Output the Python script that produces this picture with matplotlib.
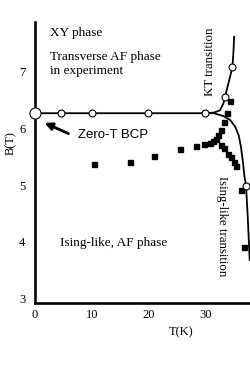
"""B-T phase diagram with KT and Ising-like transition lines."""

import matplotlib.pyplot as plt

# open circles on the horizontal boundary
flat_T = [0.0, 4.5, 10.0, 20.0, 30.0]
flat_B = [6.27, 6.27, 6.27, 6.27, 6.27]

# KT transition branch (line)
kt_line_T = [0.0, 30.0, 31.5, 32.6, 33.2, 33.5, 34.1, 34.8, 35.0, 35.1]
kt_line_B = [6.27, 6.27, 6.28, 6.32, 6.44, 6.56, 6.80, 7.08, 7.38, 7.62]
kt_circ_T = [33.5, 34.8]
kt_circ_B = [6.56, 7.08]

# Ising-like transition branch
is_line_T = [30.0, 31.5, 33.2, 34.4, 35.3, 35.9, 36.3, 36.65, 36.9, 37.2, 37.5, 37.85]
is_line_B = [6.27, 6.27, 6.22, 6.15, 6.03, 5.88, 5.68, 5.41, 5.17, 4.99, 4.44, 3.68]
is_circ_T = [37.2]
is_circ_B = [4.99]

# experimental points (filled squares)
sq_T = [10.4, 16.8, 21.0, 25.6, 28.3, 29.8, 30.8, 31.3, 31.85, 32.3, 32.8, 33.4,
        33.9, 34.4, 32.8, 33.3, 34.1, 34.6, 35.0, 35.4, 36.3, 36.9]
sq_B = [5.37, 5.41, 5.51, 5.64, 5.70, 5.73, 5.75, 5.78, 5.82, 5.88, 5.97, 6.12,
        6.27, 6.48, 5.71, 5.65, 5.55, 5.49, 5.41, 5.34, 4.92, 3.90]

x_ticks = [0, 10, 20, 30]
y_ticks = [3, 4, 5, 6, 7]

SERIF = "Liberation Serif"
SANS = "Liberation Sans"

fig = plt.figure(figsize=(2.5, 3.66), dpi=100)
ax = fig.add_axes([35 / 250, 63 / 366, 215 / 250, 281 / 366])
ax.set_xlim(0, 37.9)
ax.set_ylim(2.92, 7.88)

for side in ["top", "right"]:
    ax.spines[side].set_visible(False)
for side in ["left", "bottom"]:
    ax.spines[side].set_linewidth(1.9)

ax.set_xticks(x_ticks)
ax.set_yticks(y_ticks)
ax.tick_params(length=0, labelsize=9)
ax.tick_params(axis="x", pad=4)
ax.tick_params(axis="y", pad=7)
for lab in ax.get_xticklabels() + ax.get_yticklabels():
    lab.set_fontfamily(SERIF)

ax.plot(kt_line_T, kt_line_B, color="black", lw=1.3, zorder=2)
ax.plot(is_line_T, is_line_B, color="black", lw=1.3, zorder=2)

circ = dict(ls="none", marker="o", mfc="white", mec="black", mew=0.8, zorder=4)
ax.plot(flat_T[1:], flat_B[1:], ms=5, **circ)
ax.plot(flat_T[:1], flat_B[:1], ms=8, clip_on=False, **circ)
ax.plot(kt_circ_T, kt_circ_B, ms=5, **circ)
ax.plot(is_circ_T, is_circ_B, ms=5, **circ)
ax.plot(sq_T, sq_B, ls="none", marker="s", ms=3.6, color="black", zorder=3)

ax.text(2.6, 7.68, "XY phase", fontsize=9.5, family=SERIF, va="center")
ax.text(2.6, 7.26, "Transverse AF phase", fontsize=9.5, family=SERIF, va="center")
ax.text(2.6, 7.01, "in experiment", fontsize=9.5, family=SERIF, va="center")
ax.text(4.4, 3.98, "Ising-like, AF phase", fontsize=9.5, family=SERIF, va="center")
ax.text(7.6, 5.88, "Zero-T BCP", fontsize=9.5, family=SANS, va="center")
ax.text(30.9, 7.17, "KT transition", fontsize=9.3, family=SERIF,
        rotation=90, ha="center", va="center")
ax.text(33.0, 4.28, "Ising-like transition", fontsize=9.3, family=SERIF,
        rotation=-90, ha="center", va="center")

ax.annotate("", xy=(1.7, 6.10), xytext=(5.9, 5.91),
            arrowprops=dict(arrowstyle="-|>", color="black", lw=2.0,
                            mutation_scale=11, shrinkA=0, shrinkB=0))

fig.text(11 / 250, 1 - 143 / 366, "B(T)", fontsize=9, family=SERIF,
         rotation=90, ha="center", va="center")
fig.text(181 / 250, 1 - 332 / 366, "T(K)", fontsize=9, family=SERIF,
         ha="center", va="center")

fig.savefig("out.png", dpi=100)
